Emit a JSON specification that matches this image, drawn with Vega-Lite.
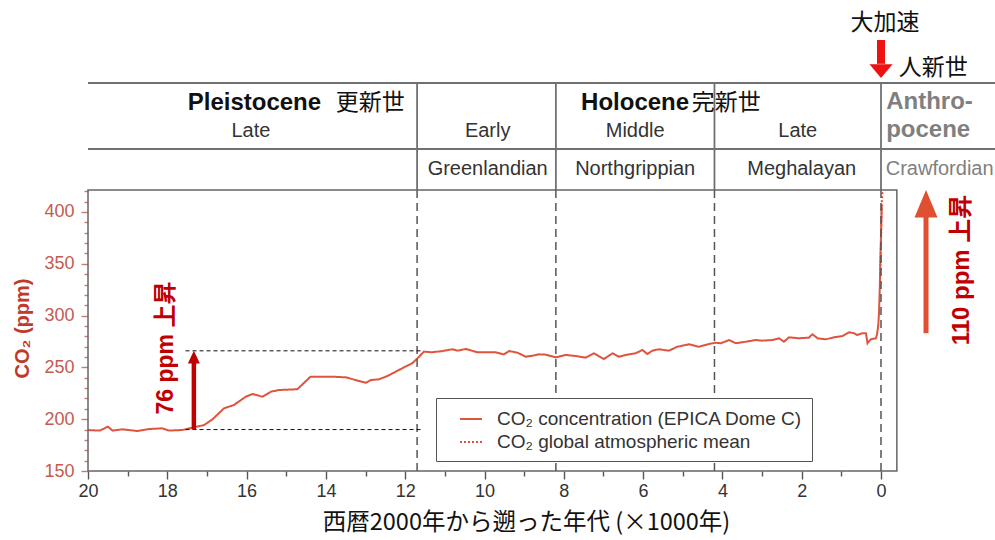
{
  "$schema": "https://vega.github.io/schema/vega-lite/v6.json",
  "width": 907,
  "height": 471,
  "autosize": {"type": "none"},
  "padding": {"left": 88, "top": 0, "right": 0, "bottom": 69},
  "background": "white",
  "config": {
    "view": {"stroke": null},
    "font": "Liberation Sans, Noto Sans CJK JP",
    "text": {"font": "Liberation Sans, Noto Sans CJK JP"},
    "axis": {"labelOverlap": false, "labelFlush": false, "grid": false}
  },
  "layer": [
    {
      "data": {"values": [
        {"age": 20.0, "ppm": 189.5, "series": "CO₂ concentration (EPICA Dome C)"},
        {"age": 19.7, "ppm": 189, "series": "CO₂ concentration (EPICA Dome C)"},
        {"age": 19.5, "ppm": 192.8, "series": "CO₂ concentration (EPICA Dome C)"},
        {"age": 19.38, "ppm": 189, "series": "CO₂ concentration (EPICA Dome C)"},
        {"age": 19.13, "ppm": 190.2, "series": "CO₂ concentration (EPICA Dome C)"},
        {"age": 18.75, "ppm": 188.6, "series": "CO₂ concentration (EPICA Dome C)"},
        {"age": 18.46, "ppm": 190.5, "series": "CO₂ concentration (EPICA Dome C)"},
        {"age": 18.13, "ppm": 191.2, "series": "CO₂ concentration (EPICA Dome C)"},
        {"age": 17.96, "ppm": 189, "series": "CO₂ concentration (EPICA Dome C)"},
        {"age": 17.62, "ppm": 189.6, "series": "CO₂ concentration (EPICA Dome C)"},
        {"age": 17.32, "ppm": 192.2, "series": "CO₂ concentration (EPICA Dome C)"},
        {"age": 17.07, "ppm": 194.4, "series": "CO₂ concentration (EPICA Dome C)"},
        {"age": 16.86, "ppm": 199.9, "series": "CO₂ concentration (EPICA Dome C)"},
        {"age": 16.57, "ppm": 210.5, "series": "CO₂ concentration (EPICA Dome C)"},
        {"age": 16.32, "ppm": 213.7, "series": "CO₂ concentration (EPICA Dome C)"},
        {"age": 16.02, "ppm": 221.7, "series": "CO₂ concentration (EPICA Dome C)"},
        {"age": 15.85, "ppm": 224.3, "series": "CO₂ concentration (EPICA Dome C)"},
        {"age": 15.6, "ppm": 221.7, "series": "CO₂ concentration (EPICA Dome C)"},
        {"age": 15.39, "ppm": 226.5, "series": "CO₂ concentration (EPICA Dome C)"},
        {"age": 15.18, "ppm": 228.2, "series": "CO₂ concentration (EPICA Dome C)"},
        {"age": 14.72, "ppm": 228.9, "series": "CO₂ concentration (EPICA Dome C)"},
        {"age": 14.39, "ppm": 241, "series": "CO₂ concentration (EPICA Dome C)"},
        {"age": 13.84, "ppm": 241, "series": "CO₂ concentration (EPICA Dome C)"},
        {"age": 13.5, "ppm": 240.4, "series": "CO₂ concentration (EPICA Dome C)"},
        {"age": 13.25, "ppm": 237.8, "series": "CO₂ concentration (EPICA Dome C)"},
        {"age": 12.99, "ppm": 235.2, "series": "CO₂ concentration (EPICA Dome C)"},
        {"age": 12.87, "ppm": 237.8, "series": "CO₂ concentration (EPICA Dome C)"},
        {"age": 12.66, "ppm": 238.5, "series": "CO₂ concentration (EPICA Dome C)"},
        {"age": 12.45, "ppm": 241.7, "series": "CO₂ concentration (EPICA Dome C)"},
        {"age": 12.24, "ppm": 245.8, "series": "CO₂ concentration (EPICA Dome C)"},
        {"age": 12.03, "ppm": 250.1, "series": "CO₂ concentration (EPICA Dome C)"},
        {"age": 11.82, "ppm": 254, "series": "CO₂ concentration (EPICA Dome C)"},
        {"age": 11.65, "ppm": 260.3, "series": "CO₂ concentration (EPICA Dome C)"},
        {"age": 11.53, "ppm": 265.2, "series": "CO₂ concentration (EPICA Dome C)"},
        {"age": 11.32, "ppm": 264.6, "series": "CO₂ concentration (EPICA Dome C)"},
        {"age": 11.06, "ppm": 265.8, "series": "CO₂ concentration (EPICA Dome C)"},
        {"age": 10.81, "ppm": 267.5, "series": "CO₂ concentration (EPICA Dome C)"},
        {"age": 10.68, "ppm": 266.1, "series": "CO₂ concentration (EPICA Dome C)"},
        {"age": 10.47, "ppm": 267.8, "series": "CO₂ concentration (EPICA Dome C)"},
        {"age": 10.18, "ppm": 264.6, "series": "CO₂ concentration (EPICA Dome C)"},
        {"age": 9.72, "ppm": 264.6, "series": "CO₂ concentration (EPICA Dome C)"},
        {"age": 9.51, "ppm": 262.6, "series": "CO₂ concentration (EPICA Dome C)"},
        {"age": 9.38, "ppm": 265.8, "series": "CO₂ concentration (EPICA Dome C)"},
        {"age": 9.17, "ppm": 264.2, "series": "CO₂ concentration (EPICA Dome C)"},
        {"age": 8.96, "ppm": 260.3, "series": "CO₂ concentration (EPICA Dome C)"},
        {"age": 8.79, "ppm": 261.3, "series": "CO₂ concentration (EPICA Dome C)"},
        {"age": 8.63, "ppm": 262.6, "series": "CO₂ concentration (EPICA Dome C)"},
        {"age": 8.46, "ppm": 262.3, "series": "CO₂ concentration (EPICA Dome C)"},
        {"age": 8.2, "ppm": 259.7, "series": "CO₂ concentration (EPICA Dome C)"},
        {"age": 7.95, "ppm": 262, "series": "CO₂ concentration (EPICA Dome C)"},
        {"age": 7.7, "ppm": 261, "series": "CO₂ concentration (EPICA Dome C)"},
        {"age": 7.45, "ppm": 259.4, "series": "CO₂ concentration (EPICA Dome C)"},
        {"age": 7.24, "ppm": 263.6, "series": "CO₂ concentration (EPICA Dome C)"},
        {"age": 6.99, "ppm": 258.1, "series": "CO₂ concentration (EPICA Dome C)"},
        {"age": 6.77, "ppm": 263.6, "series": "CO₂ concentration (EPICA Dome C)"},
        {"age": 6.61, "ppm": 260.3, "series": "CO₂ concentration (EPICA Dome C)"},
        {"age": 6.4, "ppm": 262.3, "series": "CO₂ concentration (EPICA Dome C)"},
        {"age": 6.19, "ppm": 263.6, "series": "CO₂ concentration (EPICA Dome C)"},
        {"age": 6.02, "ppm": 266.8, "series": "CO₂ concentration (EPICA Dome C)"},
        {"age": 5.89, "ppm": 262.9, "series": "CO₂ concentration (EPICA Dome C)"},
        {"age": 5.77, "ppm": 266.1, "series": "CO₂ concentration (EPICA Dome C)"},
        {"age": 5.6, "ppm": 267.5, "series": "CO₂ concentration (EPICA Dome C)"},
        {"age": 5.35, "ppm": 266.1, "series": "CO₂ concentration (EPICA Dome C)"},
        {"age": 5.14, "ppm": 269.9, "series": "CO₂ concentration (EPICA Dome C)"},
        {"age": 4.84, "ppm": 272.3, "series": "CO₂ concentration (EPICA Dome C)"},
        {"age": 4.59, "ppm": 269.9, "series": "CO₂ concentration (EPICA Dome C)"},
        {"age": 4.34, "ppm": 272.6, "series": "CO₂ concentration (EPICA Dome C)"},
        {"age": 4.17, "ppm": 273.8, "series": "CO₂ concentration (EPICA Dome C)"},
        {"age": 4.04, "ppm": 273.3, "series": "CO₂ concentration (EPICA Dome C)"},
        {"age": 3.83, "ppm": 276.4, "series": "CO₂ concentration (EPICA Dome C)"},
        {"age": 3.66, "ppm": 273.3, "series": "CO₂ concentration (EPICA Dome C)"},
        {"age": 3.41, "ppm": 274.8, "series": "CO₂ concentration (EPICA Dome C)"},
        {"age": 3.16, "ppm": 276.4, "series": "CO₂ concentration (EPICA Dome C)"},
        {"age": 2.99, "ppm": 275.8, "series": "CO₂ concentration (EPICA Dome C)"},
        {"age": 2.74, "ppm": 276.4, "series": "CO₂ concentration (EPICA Dome C)"},
        {"age": 2.57, "ppm": 278.1, "series": "CO₂ concentration (EPICA Dome C)"},
        {"age": 2.45, "ppm": 274.8, "series": "CO₂ concentration (EPICA Dome C)"},
        {"age": 2.32, "ppm": 279, "series": "CO₂ concentration (EPICA Dome C)"},
        {"age": 2.07, "ppm": 278.1, "series": "CO₂ concentration (EPICA Dome C)"},
        {"age": 1.82, "ppm": 278.7, "series": "CO₂ concentration (EPICA Dome C)"},
        {"age": 1.73, "ppm": 282, "series": "CO₂ concentration (EPICA Dome C)"},
        {"age": 1.6, "ppm": 278.1, "series": "CO₂ concentration (EPICA Dome C)"},
        {"age": 1.39, "ppm": 277.1, "series": "CO₂ concentration (EPICA Dome C)"},
        {"age": 1.19, "ppm": 279, "series": "CO₂ concentration (EPICA Dome C)"},
        {"age": 0.97, "ppm": 280.3, "series": "CO₂ concentration (EPICA Dome C)"},
        {"age": 0.8, "ppm": 283.9, "series": "CO₂ concentration (EPICA Dome C)"},
        {"age": 0.68, "ppm": 283, "series": "CO₂ concentration (EPICA Dome C)"},
        {"age": 0.6, "ppm": 281.3, "series": "CO₂ concentration (EPICA Dome C)"},
        {"age": 0.47, "ppm": 283, "series": "CO₂ concentration (EPICA Dome C)"},
        {"age": 0.38, "ppm": 283, "series": "CO₂ concentration (EPICA Dome C)"},
        {"age": 0.34, "ppm": 273.3, "series": "CO₂ concentration (EPICA Dome C)"},
        {"age": 0.26, "ppm": 277.1, "series": "CO₂ concentration (EPICA Dome C)"},
        {"age": 0.13, "ppm": 278.1, "series": "CO₂ concentration (EPICA Dome C)"},
        {"age": 0.1, "ppm": 282, "series": "CO₂ concentration (EPICA Dome C)"},
        {"age": 0.07, "ppm": 290, "series": "CO₂ concentration (EPICA Dome C)"},
        {"age": 0.05, "ppm": 303, "series": "CO₂ concentration (EPICA Dome C)"},
        {"age": 0.03, "ppm": 328, "series": "CO₂ concentration (EPICA Dome C)"},
        {"age": 0.015, "ppm": 355, "series": "CO₂ concentration (EPICA Dome C)"},
        {"age": 0.0, "ppm": 378, "series": "CO₂ concentration (EPICA Dome C)"},
        {"age": -0.01, "ppm": 395, "series": "CO₂ concentration (EPICA Dome C)"},
        {"age": -0.02, "ppm": 407, "series": "CO₂ concentration (EPICA Dome C)"},
        {"age": 0.02, "ppm": 340, "series": "CO₂ global atmospheric mean"},
        {"age": 0.0, "ppm": 370, "series": "CO₂ global atmospheric mean"},
        {"age": -0.01, "ppm": 390, "series": "CO₂ global atmospheric mean"},
        {"age": -0.02, "ppm": 410, "series": "CO₂ global atmospheric mean"},
        {"age": -0.04, "ppm": 421, "series": "CO₂ global atmospheric mean"}
      ]},
      "mark": {"type": "line", "color": "#e0533d", "strokeWidth": 2},
      "encoding": {
        "x": {
          "field": "age", "type": "quantitative",
          "scale": {"domain": [20, -2.875], "nice": false, "zero": false},
          "axis": {
            "title": "西暦2000年から遡った年代 (×1000年)",
            "titleFont": "Noto Sans CJK JP", "titleFontSize": 23.5, "titleFontWeight": "normal", "titleColor": "#111",
            "titleX": 438, "titleY": 51, "titleBaseline": "middle", "titleAlign": "center",
            "tickCount": 1000, "format": "d",
            "values": [20,19.75,19.5,19.25,19,18.75,18.5,18.25,18,17.75,17.5,17.25,17,16.75,16.5,16.25,16,15.75,15.5,15.25,15,14.75,14.5,14.25,14,13.75,13.5,13.25,13,12.75,12.5,12.25,12,11.75,11.5,11.25,11,10.75,10.5,10.25,10,9.75,9.5,9.25,9,8.75,8.5,8.25,8,7.75,7.5,7.25,7,6.75,6.5,6.25,6,5.75,5.5,5.25,5,4.75,4.5,4.25,4,3.75,3.5,3.25,3,2.75,2.5,2.25,2,1.75,1.5,1.25,1,0.75,0.5,0.25,0,-0.25],
            "labelExpr": "datum.value % 2 === 0 ? datum.label : ''",
            "labelFont": "Liberation Sans", "labelColor": "#333", "labelPadding": 3, "labelFontSize": 18,
            "labelOverlap": false, "labelFlush": false,
            "domain": false, "grid": false,
            "tickColor": "#555", "tickWidth": 1.4,
            "tickSize": {"condition": {"test": "datum.value % 2 === 0", "value": 8}, "value": 5}
          }
        },
        "y": {
          "field": "ppm", "type": "quantitative",
          "scale": {"domain": [150, 604.6], "nice": false, "zero": false},
          "axis": {
            "title": "CO₂ (ppm)", "titleColor": "#c0392b", "titleFontSize": 20, "titleFontWeight": "bold",
            "titleX": -66, "titleY": 328, "titleAngle": 270, "titleBaseline": "middle", "titleAlign": "center",
            "tickCount": 1000, "format": "d",
            "values": [150,160,170,180,190,200,210,220,230,240,250,260,270,280,290,300,310,320,330,340,350,360,370,380,390,400,410,420],
            "labelExpr": "datum.value % 50 === 0 ? datum.label : ''",
            "labelFont": "Liberation Sans", "labelColor": "#c55a50", "labelPadding": 7, "labelFontSize": 18,
            "labelOverlap": false, "labelFlush": false,
            "domain": false, "grid": false,
            "tickColor": "#c77a72", "tickWidth": 1.4,
            "tickSize": {"condition": {"test": "datum.value % 50 === 0", "value": 7}, "value": 4}
          }
        },
        "strokeDash": {
          "field": "series", "type": "nominal",
          "scale": {"domain": ["CO₂ concentration (EPICA Dome C)", "CO₂ global atmospheric mean"], "range": [[1, 0], [2, 2]]},
          "legend": {
            "title": null, "orient": "none", "legendX": 348, "legendY": 398,
            "strokeColor": "#555", "fillColor": "white", "padding": 9,
            "labelFont": "Liberation Sans", "labelFontSize": 19, "labelColor": "#333", "labelLimit": 500,
            "symbolType": "stroke", "symbolSize": 484, "symbolStrokeWidth": 2, "symbolStrokeColor": "#e0533d",
            "symbolOffset": 14, "labelOffset": 14, "rowPadding": 1
          }
        }
      }
    },
    {
      "data": {"values": [{}]},
      "mark": {"type": "rect", "filled": false, "stroke": "#666", "strokeWidth": 1.5},
      "encoding": {
        "x": {"datum": 20, "type": "quantitative"}, "x2": {"datum": -0.4},
        "y": {"datum": 150, "type": "quantitative"}, "y2": {"datum": 421.2}
      }
    },
    {
      "data": {"values": [{}]},
      "mark": {"type": "rule", "color": "#707070", "strokeWidth": 1.8},
      "encoding": {
        "x": {"datum": 20, "type": "quantitative"}, "x2": {"datum": -2.875},
        "y": {"datum": 524.5, "type": "quantitative"}
      }
    },
    {
      "data": {"values": [{}]},
      "mark": {"type": "rule", "color": "#707070", "strokeWidth": 1.8},
      "encoding": {
        "x": {"datum": 20, "type": "quantitative"}, "x2": {"datum": -2.875},
        "y": {"datum": 460.8, "type": "quantitative"}
      }
    },
    {
      "data": {"values": [{"boundary": 11.7}, {"boundary": 8.2}, {"boundary": 4.2}, {"boundary": 0}]},
      "mark": {"type": "rule", "color": "#555", "strokeWidth": 1.5, "strokeDash": [8, 5]},
      "encoding": {
        "x": {"field": "boundary", "type": "quantitative"},
        "y": {"datum": 150, "type": "quantitative"}, "y2": {"datum": 421.2}
      }
    },
    {
      "data": {"values": [{"boundary": 11.7}, {"boundary": 8.2}, {"boundary": 4.2}, {"boundary": 0}]},
      "mark": {"type": "rule", "color": "#707070", "strokeWidth": 1.8},
      "encoding": {
        "x": {"field": "boundary", "type": "quantitative"},
        "y": {"datum": 421.2, "type": "quantitative"}, "y2": {"datum": 524.5}
      }
    },
    {
      "data": {"values": [{"name": "Pleistocene", "at": 14.12}, {"name": "Holocene", "at": 4.84}]},
      "mark": {"type": "text", "align": "right", "baseline": "alphabetic", "fontSize": 24, "fontWeight": "bold", "color": "#111", "font": "Liberation Sans"},
      "encoding": {
        "x": {"field": "at", "type": "quantitative"},
        "y": {"datum": 498.5, "type": "quantitative"},
        "text": {"field": "name"}
      }
    },
    {
      "data": {"values": [{"name": "更新世", "at": 13.75}, {"name": "完新世", "at": 4.77}]},
      "mark": {"type": "text", "align": "left", "baseline": "alphabetic", "fontSize": 23, "color": "#111", "font": "Noto Sans CJK JP"},
      "encoding": {
        "x": {"field": "at", "type": "quantitative"},
        "y": {"datum": 498.5, "type": "quantitative"},
        "text": {"field": "name"}
      }
    },
    {
      "data": {"values": [{"name": "Late", "at": 15.89}, {"name": "Early", "at": 9.92}, {"name": "Middle", "at": 6.2}, {"name": "Late", "at": 2.1}]},
      "mark": {"type": "text", "align": "center", "baseline": "alphabetic", "fontSize": 20, "color": "#333", "font": "Liberation Sans"},
      "encoding": {
        "x": {"field": "at", "type": "quantitative"},
        "y": {"datum": 472.4, "type": "quantitative"},
        "text": {"field": "name"}
      }
    },
    {
      "data": {"values": [{"name": "Greenlandian", "at": 9.92}, {"name": "Northgrippian", "at": 6.2}, {"name": "Meghalayan", "at": 2.0}]},
      "mark": {"type": "text", "align": "center", "baseline": "alphabetic", "fontSize": 20, "color": "#333", "font": "Liberation Sans"},
      "encoding": {
        "x": {"field": "at", "type": "quantitative"},
        "y": {"datum": 435.7, "type": "quantitative"},
        "text": {"field": "name"}
      }
    },
    {
      "data": {"values": [{"name": "Anthro-\npocene", "at": -0.13}]},
      "mark": {"type": "text", "align": "left", "baseline": "alphabetic", "fontSize": 24, "fontWeight": "bold", "color": "#7f7f7f", "font": "Liberation Sans", "lineBreak": "\n", "lineHeight": 28},
      "encoding": {
        "x": {"field": "at", "type": "quantitative"},
        "y": {"datum": 499.4, "type": "quantitative"},
        "text": {"field": "name"}
      }
    },
    {
      "data": {"values": [{"name": "Crawfordian", "at": -0.12}]},
      "mark": {"type": "text", "align": "left", "baseline": "alphabetic", "fontSize": 20, "color": "#7f7f7f", "font": "Liberation Sans"},
      "encoding": {
        "x": {"field": "at", "type": "quantitative"},
        "y": {"datum": 435.7, "type": "quantitative"},
        "text": {"field": "name"}
      }
    },
    {
      "data": {"values": [{"level": 190}, {"level": 266}]},
      "mark": {"type": "rule", "color": "#111", "strokeWidth": 1, "strokeDash": [4, 3]},
      "encoding": {
        "x": {"datum": 17.54, "type": "quantitative"}, "x2": {"datum": 11.58},
        "y": {"field": "level", "type": "quantitative"}
      }
    },
    {
      "data": {"values": [{"age": 17.33, "from": 190, "to": 261}]},
      "mark": {"type": "rule", "color": "#c00000", "strokeWidth": 4.5},
      "encoding": {
        "x": {"field": "age", "type": "quantitative"},
        "y": {"field": "from", "type": "quantitative"}, "y2": {"field": "to"}
      }
    },
    {
      "data": {"values": [{"age": 17.33, "to": 266}]},
      "mark": {"type": "point", "shape": "M0,0L1,2.1L-1,2.1Z", "size": 144, "filled": true, "color": "#c00000", "opacity": 1},
      "encoding": {
        "x": {"field": "age", "type": "quantitative"},
        "y": {"field": "to", "type": "quantitative"}
      }
    },
    {
      "data": {"values": [{"note": "76 ppm 上昇", "age": 18.03, "ppm": 268.7}]},
      "mark": {"type": "text", "angle": 270, "align": "center", "baseline": "middle", "fontSize": 23, "fontWeight": "bold", "color": "#c00000"},
      "encoding": {
        "x": {"field": "age", "type": "quantitative"},
        "y": {"field": "ppm", "type": "quantitative"},
        "text": {"field": "note"}
      }
    },
    {
      "data": {"values": [{"age": -1.135, "from": 283, "to": 397}]},
      "mark": {"type": "rule", "color": "#e05030", "strokeWidth": 5},
      "encoding": {
        "x": {"field": "age", "type": "quantitative"},
        "y": {"field": "from", "type": "quantitative"}, "y2": {"field": "to"}
      }
    },
    {
      "data": {"values": [{"age": -1.135, "to": 421.2}]},
      "mark": {"type": "point", "shape": "M0,0L1,2.4L-1,2.4Z", "size": 529, "filled": true, "color": "#e05030", "opacity": 1},
      "encoding": {
        "x": {"field": "age", "type": "quantitative"},
        "y": {"field": "to", "type": "quantitative"}
      }
    },
    {
      "data": {"values": [{"note": "110 ppm 上昇", "age": -2.04, "ppm": 344}]},
      "mark": {"type": "text", "angle": 270, "align": "center", "baseline": "middle", "fontSize": 24, "fontWeight": "bold", "color": "#c00000"},
      "encoding": {
        "x": {"field": "age", "type": "quantitative"},
        "y": {"field": "ppm", "type": "quantitative"},
        "text": {"field": "note"}
      }
    },
    {
      "data": {"values": [{"note": "大加速", "age": -0.1}]},
      "mark": {"type": "text", "align": "center", "baseline": "alphabetic", "fontSize": 23, "color": "#111", "font": "Noto Sans CJK JP"},
      "encoding": {
        "x": {"field": "age", "type": "quantitative"},
        "y": {"datum": 575.7, "type": "quantitative"},
        "text": {"field": "note"}
      }
    },
    {
      "data": {"values": [{"age": 0}]},
      "mark": {"type": "rule", "color": "#ee1111", "strokeWidth": 8},
      "encoding": {
        "x": {"field": "age", "type": "quantitative"},
        "y": {"datum": 566, "type": "quantitative"}, "y2": {"datum": 543}
      }
    },
    {
      "data": {"values": [{"age": 0}]},
      "mark": {"type": "point", "shape": "M0,0L1,-1.2L-1,-1.2Z", "size": 529, "filled": true, "color": "#ee1111", "opacity": 1},
      "encoding": {
        "x": {"field": "age", "type": "quantitative"},
        "y": {"datum": 529.3, "type": "quantitative"}
      }
    },
    {
      "data": {"values": [{"note": "人新世", "age": -0.45}]},
      "mark": {"type": "text", "align": "left", "baseline": "alphabetic", "fontSize": 23, "color": "#111", "font": "Noto Sans CJK JP"},
      "encoding": {
        "x": {"field": "age", "type": "quantitative"},
        "y": {"datum": 532.2, "type": "quantitative"},
        "text": {"field": "note"}
      }
    }
  ]
}
